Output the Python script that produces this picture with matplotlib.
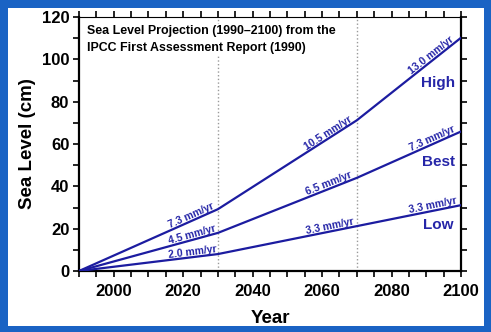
import numpy as np
import matplotlib
matplotlib.use('Agg')
import matplotlib.pyplot as plt
from matplotlib.patches import Rectangle
from matplotlib.ticker import MultipleLocator

plt.rcParams['font.family'] = ['Liberation Sans', 'DejaVu Sans']
plt.rcParams['font.weight'] = 'bold'

# IPCC FAR projections: breakpoints and cumulative rise (cm)
years = [1990, 2030, 2070, 2100]
low = [0, 8.0, 21.2, 31.1]
best = [0, 18.0, 44.0, 65.9]
high = [0, 29.2, 71.2, 110.2]

scenario_names = ['High', 'Best', 'Low']
scenario_label_pos = [(2093.5, 89), (2093.5, 51.5), (2093.5, 21.5)]

# rate labels for each segment, placed at the given year along the line
rate_labels = {
    'High': ['7.3 mm/yr', '10.5 mm/yr', '13.0 mm/yr'],
    'Best': ['4.5 mm/yr', '6.5 mm/yr', '7.3 mm/yr'],
    'Low': ['2.0 mm/yr', '3.3 mm/yr', '3.3 mm/yr'],
}
rate_label_years = [2023, 2062.5, 2092.3]

line_color = '#1c1ca0'
text_color = '#2626a8'
frame_color = '#1a63c4'

fig = plt.figure(figsize=(4.91, 3.32), dpi=100, facecolor=frame_color)
fig.patches.append(Rectangle((8 / 491, 6 / 332), 476 / 491, 318 / 332,
                             transform=fig.transFigure, facecolor='white',
                             edgecolor='none', zorder=-5))

ax = fig.add_axes([79 / 491, 61 / 332, 382 / 491, 254 / 332])
ax.set_zorder(2)
ax.set_xlim(1990, 2100)
ax.set_ylim(0, 120)

# breakpoint markers
for yr in years[1:3]:
    ax.axvline(yr, color='#9a9a9a', linestyle=':', linewidth=1.0, zorder=1)

series = {'High': high, 'Best': best, 'Low': low}
for name in scenario_names:
    ax.plot(years, series[name], color=line_color, linewidth=1.6, zorder=3)

for name, (lx, ly) in zip(scenario_names, scenario_label_pos):
    ax.text(lx, ly, name, color=text_color, fontsize=11, fontweight='bold',
            ha='center', va='center')

# slope labels sit on top of each segment
for name in scenario_names:
    vals = series[name]
    for i, (lbl, yr) in enumerate(zip(rate_labels[name], rate_label_years)):
        dx = years[i + 1] - years[i]
        dy = vals[i + 1] - vals[i]
        ang = np.degrees(np.arctan2(dy, dx))
        yv = np.interp(yr, years, vals)
        ax.text(yr, yv, lbl, color=text_color, fontsize=7.5, fontweight='bold',
                ha='center', va='bottom', rotation=ang, rotation_mode='anchor',
                transform_rotates_text=True, zorder=4)

ax.text(0.02, 0.968,
        'Sea Level Projection (1990\u20132100) from the\nIPCC First Assessment Report (1990)',
        transform=ax.transAxes, fontsize=8.9, fontweight='bold', va='top',
        ha='left', linespacing=1.55,
        bbox=dict(facecolor='white', edgecolor='none', pad=1), zorder=5)

ax.xaxis.set_major_locator(MultipleLocator(20))
ax.xaxis.set_minor_locator(MultipleLocator(5))
ax.yaxis.set_major_locator(MultipleLocator(20))
ax.yaxis.set_minor_locator(MultipleLocator(10))
ax.tick_params(which='both', direction='out', top=True, right=True,
               width=1.2, labelsize=12, pad=3)
ax.tick_params(axis='x', which='major', pad=5)
ax.tick_params(which='major', length=4)
ax.tick_params(which='minor', length=4)
for side in ['left', 'right', 'bottom']:
    ax.spines[side].set_linewidth(1.6)
ax.spines['top'].set_linewidth(0.8)

ax.set_xlabel('Year', fontsize=13.5, fontweight='bold', labelpad=8)
ax.set_ylabel('Sea Level (cm)', fontsize=13.5, fontweight='bold', labelpad=4)

fig.savefig('out.png', dpi=100, facecolor=frame_color)
